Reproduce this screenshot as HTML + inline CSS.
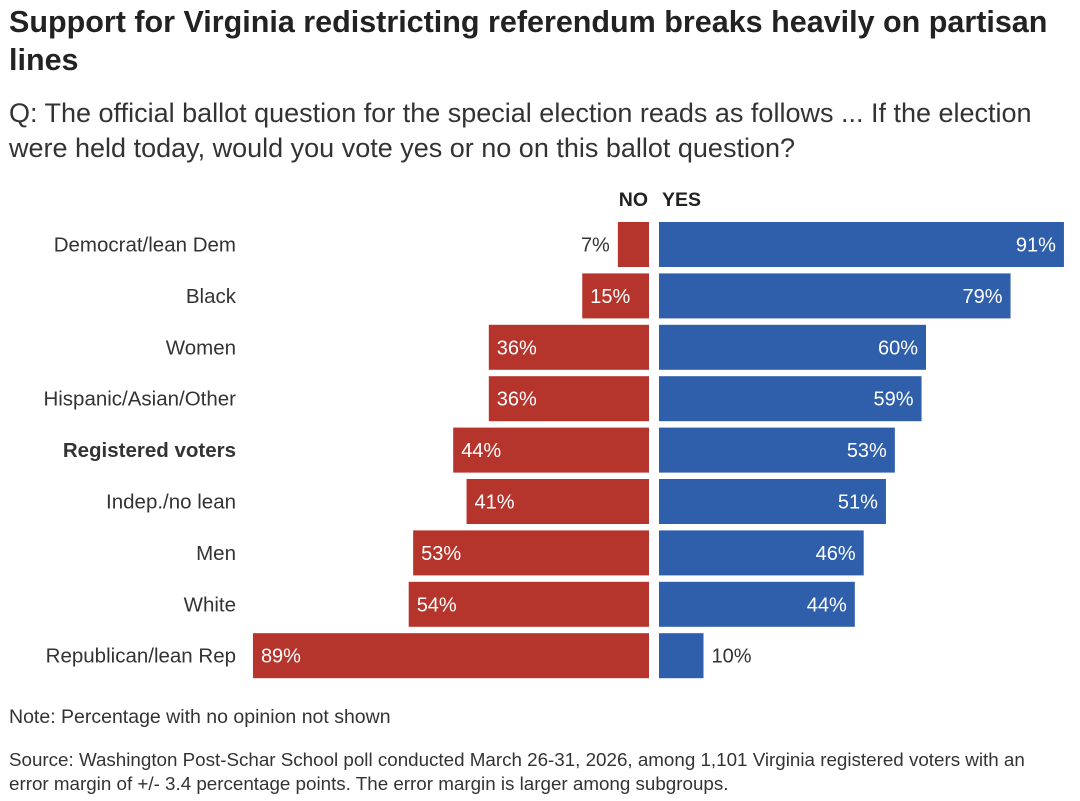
<!DOCTYPE html>
<html><head><meta charset="utf-8"><style>
body{margin:0;background:#fff;font-family:"Liberation Sans",sans-serif;width:1080px;height:801px;overflow:hidden;position:relative;color:#222}
.t{position:absolute;left:9px;top:3px;font-size:30.5px;font-weight:bold;line-height:38px;width:1068px;color:#222}
.q{position:absolute;left:9px;top:96px;font-size:27px;line-height:35px;color:#333;width:1050px}
.note{position:absolute;left:9px;top:706px;font-size:19.5px;color:#333}
.src{position:absolute;left:9px;top:748px;font-size:18.8px;line-height:24px;color:#333;width:1050px}
</style></head><body>
<div class="t">Support for Virginia redistricting referendum breaks heavily on partisan lines</div>
<div class="q">Q: The official ballot question for the special election reads as follows ... If the election were held today, would you vote yes or no on this ballot question?</div>
<svg id="c" width="1080" height="801" style="position:absolute;left:0;top:0">
<text x="648" y="206" text-anchor="end" font-size="19.5" font-weight="bold" fill="#222">NO</text>
<text x="662" y="206" font-size="19.5" font-weight="bold" fill="#222">YES</text>
</svg>
<div class="note">Note: Percentage with no opinion not shown</div>
<div class="src">Source: Washington Post-Schar School poll conducted March 26-31, 2026, among 1,101 Virginia registered voters with an error margin of +/- 3.4 percentage points. The error margin is larger among subgroups.</div>
<script>
const categories=["Democrat/lean Dem","Black","Women","Hispanic/Asian/Other","Registered voters","Indep./no lean","Men","White","Republican/lean Rep"];
const noValues=[7,15,36,36,44,41,53,54,89];
const yesValues=[91,79,60,59,53,51,46,44,10];
const svg=document.getElementById('c');
const NS='http://www.w3.org/2000/svg';
const scale=4.45, noEnd=649, yesStart=659, top0=222, pitch=51.4, bh=45;
function xNo(v){return noEnd-v*scale;}
function xYes(v){return yesStart+v*scale;}
function yRow(i){return top0+i*pitch;}
function mk(tag,attrs){const e=document.createElementNS(NS,tag);for(const k in attrs)e.setAttribute(k,attrs[k]);svg.appendChild(e);return e;}
categories.forEach((c,i)=>{
  const y=yRow(i), cy=y+bh/2+7;
  const lab=mk('text',{x:236,y:cy,'text-anchor':'end','font-size':20.5,fill:'#333','font-weight':c==="Registered voters"?'bold':'normal'});
  lab.textContent=c;
  
  
  const n=noValues[i], x0=xNo(n);
  const rn=mk('rect',{x:x0,y:y,width:noEnd-x0,height:bh,fill:'#b5342c'});
  
  
  const inside=n>=12;
  const tn=mk('text',{x:inside?x0+8:x0-8,y:cy,'text-anchor':inside?'start':'end','font-size':20,fill:inside?'#fff':'#333'});
  tn.textContent=n+'%';
  
  
  const v=yesValues[i], x1=xYes(v);
  const ry=mk('rect',{x:yesStart,y:y,width:x1-yesStart,height:bh,fill:'#2f5faa'});
  
  
  const ins=v>=15;
  const ty=mk('text',{x:ins?x1-8:x1+8,y:cy,'text-anchor':ins?'end':'start','font-size':20,fill:ins?'#fff':'#333'});
  ty.textContent=v+'%';
  
  
});
</script>
</body></html>
